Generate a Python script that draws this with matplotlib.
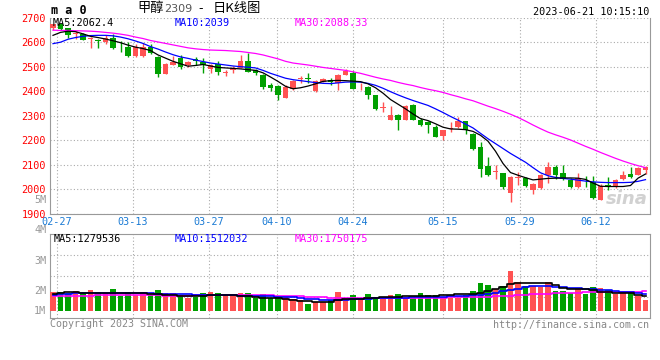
import numpy as np
import matplotlib
matplotlib.use("Agg")
import matplotlib.pyplot as plt
import matplotlib.transforms as mtransforms

plt.rcParams['font.family'] = ['DejaVu Sans Mono', 'Noto Sans CJK SC']

# daily candles (oldest first)
opens = [2660, 2673, 2657, 2633, 2632, 2613, 2611, 2602, 2617, 2581,
         2582, 2543, 2543, 2580, 2541, 2472, 2507, 2537, 2505, 2530,
         2520, 2489, 2509, 2476, 2487, 2496, 2523, 2486, 2468, 2427,
         2420, 2373, 2407, 2449, 2452, 2400, 2437, 2445, 2434, 2468,
         2475, 2416, 2418, 2384, 2332, 2284, 2302, 2284, 2343, 2284,
         2274, 2252, 2218, 2245, 2252, 2278, 2227, 2172, 2096, 2070,
         2065, 1986, 2047, 2045, 1998, 2006, 2060, 2089, 2068, 2037,
         2008, 2046, 2030, 1956, 2018, 2014, 2041, 2061, 2059, 2080]
highs = [2676, 2676, 2660, 2646, 2636, 2621, 2613, 2630, 2635, 2605,
         2600, 2592, 2598, 2591, 2545, 2515, 2543, 2548, 2523, 2540,
         2537, 2510, 2523, 2486, 2502, 2546, 2557, 2489, 2471, 2434,
         2424, 2427, 2445, 2464, 2473, 2444, 2453, 2455, 2470, 2492,
         2482, 2434, 2421, 2386, 2355, 2341, 2305, 2345, 2346, 2290,
         2280, 2262, 2242, 2274, 2293, 2280, 2230, 2194, 2131, 2099,
         2066, 2052, 2072, 2050, 2026, 2062, 2110, 2098, 2098, 2045,
         2068, 2055, 2052, 2020, 2049, 2041, 2074, 2092, 2090, 2096]
lows = [2649, 2650, 2619, 2612, 2607, 2578, 2578, 2594, 2574, 2561,
        2539, 2540, 2540, 2552, 2460, 2470, 2505, 2490, 2500, 2507,
        2473, 2475, 2468, 2461, 2475, 2493, 2478, 2466, 2411, 2400,
        2366, 2371, 2405, 2434, 2434, 2398, 2436, 2427, 2404, 2466,
        2408, 2404, 2370, 2322, 2316, 2283, 2243, 2282, 2282, 2257,
        2230, 2212, 2202, 2233, 2250, 2225, 2158, 2049, 2052, 2041,
        2000, 1949, 2018, 2010, 1981, 2000, 2025, 2041, 2038, 2003,
        2006, 2011, 1960, 1954, 1997, 2004, 2038, 2044, 2056, 2062]
closes = [2673, 2653, 2630, 2636, 2609, 2616, 2603, 2617, 2578, 2579,
          2543, 2582, 2582, 2557, 2471, 2509, 2520, 2498, 2520, 2525,
          2507, 2507, 2478, 2479, 2495, 2523, 2480, 2473, 2416, 2412,
          2384, 2418, 2441, 2452, 2448, 2441, 2451, 2438, 2468, 2482,
          2410, 2419, 2386, 2329, 2335, 2304, 2281, 2339, 2284, 2264,
          2260, 2215, 2240, 2249, 2278, 2243, 2166, 2083, 2056, 2073,
          2010, 2049, 2050, 2015, 2022, 2058, 2089, 2056, 2042, 2007,
          2045, 2044, 1963, 2014, 2012, 2037, 2057, 2048, 2086, 2091]

ma5 = [2628, 2640, 2645, 2643, 2634, 2624, 2619, 2613, 2606, 2598,
       2588, 2580, 2574, 2566, 2548, 2535, 2522, 2512, 2502, 2505,
       2509, 2503, 2497, 2495, 2493, 2491, 2488, 2485, 2475, 2458,
       2440, 2420, 2410, 2414, 2421, 2430, 2440, 2443, 2444, 2443,
       2441, 2439, 2430, 2414, 2392, 2366, 2347, 2328, 2307, 2288,
       2280, 2267, 2253, 2246, 2245, 2243, 2236, 2220, 2196, 2155,
       2105, 2068, 2057, 2047, 2038, 2041, 2044, 2045, 2046, 2046,
       2045, 2040, 2025, 2012, 2011, 2011, 2011, 2015, 2045, 2062]
ma10 = [2594, 2600, 2612, 2619, 2624, 2627, 2628, 2628, 2626, 2621,
        2614, 2605, 2595, 2582, 2572, 2560, 2549, 2540, 2534, 2527,
        2521, 2515, 2511, 2507, 2503, 2500, 2498, 2495, 2485, 2473,
        2463, 2453, 2447, 2443, 2439, 2435, 2432, 2431, 2434, 2437,
        2438, 2437, 2432, 2424, 2412, 2398, 2385, 2373, 2362, 2352,
        2342, 2328, 2313, 2297, 2282, 2266, 2250, 2228, 2206, 2186,
        2166, 2146, 2128, 2110, 2088, 2067, 2055, 2048, 2044, 2041,
        2037, 2033, 2030, 2028, 2027, 2027, 2027, 2028, 2032, 2039]
ma30 = [2649, 2648, 2648, 2647, 2646, 2645, 2643, 2640, 2637, 2633,
        2628, 2621, 2615, 2607, 2601, 2595, 2589, 2583, 2577, 2573,
        2570, 2568, 2567, 2566, 2564, 2562, 2558, 2554, 2548, 2540,
        2532, 2522, 2515, 2511, 2507, 2502, 2497, 2493, 2489, 2485,
        2479, 2473, 2465, 2457, 2450, 2444, 2436, 2429, 2423, 2415,
        2408, 2402, 2395, 2386, 2378, 2369, 2361, 2350, 2339, 2329,
        2318, 2306, 2293, 2278, 2262, 2247, 2233, 2222, 2212, 2201,
        2188, 2175, 2163, 2150, 2138, 2126, 2115, 2105, 2096, 2088]

# volume as drawn (M on the chart's own scale), bars start at vol_base
volume = [1.97, 1.97, 1.91, 2.00, 1.91, 2.02, 1.97, 1.91, 2.06, 1.83,
          1.97, 1.86, 1.97, 1.86, 2.02, 1.91, 1.91, 1.86, 1.77, 1.80,
          1.91, 1.97, 1.93, 1.86, 1.86, 1.93, 1.91, 1.77, 1.88, 1.75,
          1.80, 1.78, 1.72, 1.69, 1.56, 1.64, 1.64, 1.69, 1.97, 1.75,
          1.86, 1.75, 1.89, 1.78, 1.75, 1.86, 1.89, 1.75, 1.75, 1.93,
          1.86, 1.86, 1.78, 1.75, 1.75, 1.86, 2.00, 2.27, 2.19, 2.06,
          2.16, 2.65, 2.30, 2.16, 2.16, 2.13, 2.30, 1.99, 1.99, 1.93,
          2.05, 1.89, 2.11, 2.08, 2.02, 1.89, 1.97, 1.97, 1.83, 1.69]
vol_ma5 = [1.89, 1.92, 1.97, 1.96, 1.94, 1.92, 1.92, 1.91, 1.91, 1.91,
           1.91, 1.92, 1.92, 1.90, 1.89, 1.87, 1.86, 1.84, 1.82, 1.82,
           1.84, 1.85, 1.85, 1.86, 1.86, 1.84, 1.81, 1.78, 1.77, 1.76,
           1.75, 1.73, 1.69, 1.67, 1.65, 1.64, 1.64, 1.64, 1.68, 1.71,
           1.72, 1.74, 1.76, 1.77, 1.78, 1.79, 1.79, 1.81, 1.81, 1.82,
           1.82, 1.84, 1.86, 1.87, 1.88, 1.89, 1.89, 1.94, 1.99, 2.06,
           2.12, 2.22, 2.24, 2.25, 2.26, 2.26, 2.25, 2.19, 2.09, 2.07,
           2.05, 2.04, 2.01, 1.97, 1.96, 1.94, 1.92, 1.91, 1.86, 1.82]
vol_ma10 = [1.86, 1.88, 1.90, 1.91, 1.92, 1.92, 1.93, 1.93, 1.93, 1.93,
            1.92, 1.92, 1.91, 1.91, 1.90, 1.89, 1.89, 1.88, 1.88, 1.87,
            1.87, 1.86, 1.86, 1.85, 1.85, 1.84, 1.83, 1.83, 1.82, 1.81,
            1.80, 1.79, 1.78, 1.76, 1.74, 1.72, 1.70, 1.68, 1.68, 1.70,
            1.71, 1.73, 1.74, 1.75, 1.75, 1.76, 1.77, 1.77, 1.78, 1.78,
            1.78, 1.79, 1.80, 1.82, 1.83, 1.84, 1.85, 1.86, 1.90, 1.94,
            1.98, 2.02, 2.06, 2.11, 2.15, 2.16, 2.14, 2.12, 2.11, 2.10,
            2.09, 2.07, 2.05, 2.03, 2.01, 2.00, 1.97, 1.95, 1.92, 1.90]
vol_ma30 = [1.82, 1.83, 1.83, 1.83, 1.84, 1.84, 1.85, 1.85, 1.85, 1.86,
            1.86, 1.86, 1.85, 1.85, 1.85, 1.84, 1.84, 1.84, 1.84, 1.85,
            1.86, 1.87, 1.87, 1.87, 1.87, 1.87, 1.86, 1.86, 1.85, 1.85,
            1.84, 1.83, 1.82, 1.81, 1.80, 1.79, 1.78, 1.77, 1.75, 1.75,
            1.75, 1.75, 1.75, 1.75, 1.75, 1.75, 1.75, 1.76, 1.76, 1.76,
            1.77, 1.77, 1.77, 1.78, 1.78, 1.78, 1.78, 1.79, 1.80, 1.81,
            1.82, 1.84, 1.85, 1.86, 1.88, 1.89, 1.90, 1.91, 1.92, 1.93,
            1.94, 1.95, 1.95, 1.96, 1.96, 1.96, 1.97, 1.97, 1.97, 1.99]
vol_base = 1.34

date_labels = ["02-27", "03-13", "03-27", "04-10", "04-24", "05-15", "05-29", "06-12"]
date_pos = [0.53, 10.67, 20.8, 29.87, 40.0, 52.0, 62.27, 72.4]
price_ticks = [1900, 2000, 2100, 2200, 2300, 2400, 2500, 2600, 2700]
vol_tick_labels = ["5M", "4M", "3M", "2M", "1M"]
vol_tick_vals = [5, 4, 3, 2, 1.34]

RED = '#ff5252'
GREEN = '#00a000'
GRID = '#aaaaaa'
FRAME = '#999999'

W, H = 660, 360


def fx(px):
    return px / W


def fy(py):
    return 1 - py / H


fig = plt.figure(figsize=(6.6, 3.6), dpi=100)
fig.patch.set_facecolor('white')

x = np.arange(len(opens))
o = np.array(opens, dtype=float)
c = np.array(closes, dtype=float)
colors = np.where(c >= o, RED, GREEN)

# price panel
ax = fig.add_axes([fx(50), fy(213.7), 600 / W, (213.7 - 17.7) / H])
ax.vlines(x, lows, highs, colors=colors, lw=1, zorder=3)
ax.bar(x, np.maximum(np.abs(c - o), 3), bottom=np.minimum(o, c), width=0.76,
       color=colors, linewidth=0, zorder=4)
ax.plot(x, ma30, color='#ff00ff', lw=0.9, zorder=5)
ax.plot(x, ma10, color='#0000ff', lw=0.9, zorder=5)
ax.plot(x, ma5, color='black', lw=0.9, zorder=6)

ax.set_xlim(-0.4, 79.6)
ax.set_ylim(1900, 2700)
ax.set_yticks(price_ticks)
ax.set_yticklabels([str(t) for t in price_ticks])
ax.set_xticks(date_pos)
ax.set_xticklabels(date_labels)
ax.tick_params(axis='y', length=0, pad=3, labelcolor='#ff0000', labelsize=7.3)
ax.tick_params(axis='x', length=0, pad=2.5, labelcolor='#1a7ad4', labelsize=7.3)
ax.grid(color=GRID, linestyle=(0, (1, 2)), lw=0.8)
ax.set_axisbelow(True)
ax.spines['top'].set_visible(False)
for s in ['left', 'bottom', 'right']:
    ax.spines[s].set_color(FRAME)

# volume panel
axv = fig.add_axes([fx(50), fy(317.7), 600 / W, (317.7 - 234.3) / H])
axv.bar(x, np.array(volume) - vol_base, bottom=vol_base, width=0.76,
        color=colors, linewidth=0, zorder=3)
axv.plot(x, vol_ma30, drawstyle='steps-mid', color='#ff00ff', lw=1.2, zorder=4)
axv.plot(x, vol_ma10, drawstyle='steps-mid', color='#0000ff', lw=1.2, zorder=4)
axv.plot(x, vol_ma5, drawstyle='steps-mid', color='black', lw=1.2, zorder=5)
axv.set_xlim(-0.4, 79.6)
vlo, vhi = 1.106, 3.868
axv.set_ylim(vlo, vhi)
axv.set_xticks(date_pos)
axv.set_xticklabels([])
axv.set_yticks(np.linspace(vlo, vhi, 5)[1:4])
axv.set_yticklabels([])
axv.tick_params(length=0)
axv.grid(color=GRID, linestyle=(0, (1, 2)), lw=0.8)
axv.set_axisbelow(True)
for s in axv.spines.values():
    s.set_color(FRAME)

trans = mtransforms.blended_transform_factory(axv.transAxes, axv.transData)
for lab, v in zip(vol_tick_labels, vol_tick_vals):
    axv.text(-0.006, v, lab, transform=trans, ha='right', va='center',
             color='#999999', fontsize=7.3, clip_on=False)

# header texts
fig.text(fx(51), fy(11), "m a 0", fontsize=8.5, fontweight='bold', va='center')
fig.text(fx(137), fy(8.5), "甲醇", fontsize=9.5, va='center', family='Noto Sans CJK SC')
fig.text(fx(164), fy(9), "2309", fontsize=8, va='center', color='#555555', family='DejaVu Sans')
fig.text(fx(201), fy(8.5), "-", fontsize=9, va='center', ha='center', family='DejaVu Sans')
fig.text(fx(213), fy(8.5), "日K线图", fontsize=9.5, va='center', family='Noto Sans CJK SC')
fig.text(fx(649), fy(12), "2023-06-21 10:15:10", fontsize=7.3, ha='right', va='center')

fig.text(fx(53), fy(23.5), "MA5:2062.4", fontsize=7.3, va='center', color='black')
fig.text(fx(175), fy(23.5), "MA10:2039", fontsize=7.3, va='center', color='#0000ff')
fig.text(fx(295), fy(23.5), "MA30:2088.33", fontsize=7.3, va='center', color='#ff00ff')

fig.text(fx(54), fy(238.5), "MA5:1279536", fontsize=7.3, va='center', color='black')
fig.text(fx(175), fy(238.5), "MA10:1512032", fontsize=7.3, va='center', color='#0000ff')
fig.text(fx(295), fy(238.5), "MA30:1750175", fontsize=7.3, va='center', color='#ff00ff')

fig.text(fx(50), fy(324), "Copyright 2023 SINA.COM", fontsize=7.2, va='center', color='#888888')
fig.text(fx(649), fy(324.5), "http://finance.sina.com.cn", fontsize=7.2, ha='right',
         va='center', color='#888888')

# watermark
fig.text(fx(648), fy(199), "sina", fontsize=13, ha='right', va='center', color='#cccccc',
         fontweight='bold', style='italic', family='DejaVu Sans', alpha=0.9)

fig.savefig("out.png", dpi=100)
